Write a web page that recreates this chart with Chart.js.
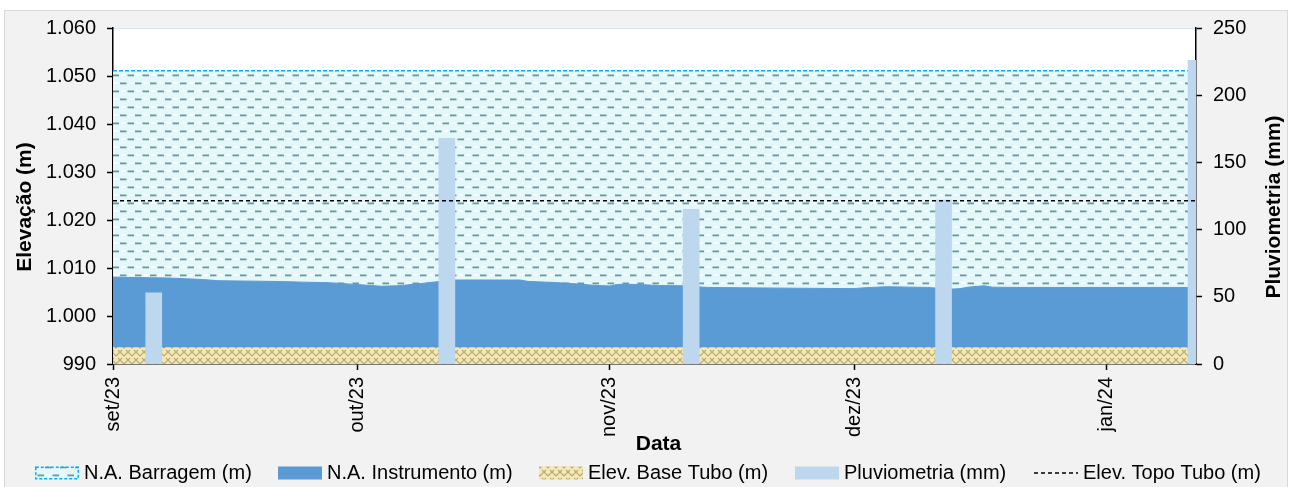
<!DOCTYPE html>
<html>
<head>
<meta charset="utf-8">
<script src="https://cdn.jsdelivr.net/npm/chart.js@4.4.0/dist/chart.umd.min.js"></script>
<style>
  html, body { margin: 0; padding: 0; background: #fff; overflow: hidden; }
  #frame { position: absolute; left: 4px; top: 10px; width: 1284px; height: 490px; background: #F2F2F2; border: 1px solid #D9D9D9; box-sizing: border-box; }
  #wrap { position: absolute; left: 0; top: 0; width: 1290px; height: 487px; }
</style>
</head>
<body>
<div id="frame"></div>
<div id="wrap"><canvas id="chart"></canvas></div>
<script>
/* ---- values ---- */
const monthTicks = ['2023-09-01', '2023-10-01', '2023-11-01', '2023-12-01', '2024-01-01'];
const monthLabels = ['set/23', 'out/23', 'nov/23', 'dez/23', 'jan/24'];
const rangeStart = '2023-09-01';
const rangeEnd = '2024-01-12';

const barragemDates = ['2023-09-01', '2024-01-12'];
const barragemValues = [1051.1, 1051.1];

const instDates = [
  '2023-09-01', '2023-09-08', '2023-09-12', '2023-09-14', '2023-09-21', '2023-09-28',
  '2023-10-04', '2023-10-06', '2023-10-08', '2023-10-10', '2023-10-13', '2023-10-21',
  '2023-10-22', '2023-10-25', '2023-10-27', '2023-10-30', '2023-11-01', '2023-11-02',
  '2023-11-04', '2023-11-07', '2023-11-10', '2023-11-13', '2023-11-23', '2023-12-01',
  '2023-12-02', '2023-12-05', '2023-12-10', '2023-12-13', '2023-12-14', '2023-12-15',
  '2023-12-17', '2023-12-18', '2023-12-21', '2024-01-12',
];
const instValues = [
  1008.1, 1007.9, 1007.6, 1007.35, 1007.2, 1006.9,
  1006.2, 1006.3, 1006.6, 1007.0, 1007.5, 1007.5,
  1007.2, 1007.0, 1006.8, 1006.4, 1006.25, 1006.6,
  1006.6, 1006.35, 1006.3, 1005.95, 1005.8, 1005.7,
  1005.85, 1006.1, 1005.95, 1005.6, 1005.7, 1006.0,
  1006.3, 1006.0, 1005.95, 1005.95,
];

const baseDates = ['2023-09-01', '2024-01-12'];
const baseValues = [993.5, 993.5];

const topoDates = ['2023-09-01', '2024-01-12'];
const topoValues = [1024.0, 1024.0];

const rainDates = ['2023-09-06', '2023-10-12', '2023-11-11', '2023-12-12', '2024-01-12'];
const rainValues = [53, 168, 115, 122, 226];

/* ---- helpers ---- */
const FONT = '"Liberation Sans", Arial, sans-serif';

function dayOf(s) {
  const [y, m, d] = s.split('-').map(Number);
  const [y0, m0, d0] = rangeStart.split('-').map(Number);
  return (Date.UTC(y, m - 1, d) - Date.UTC(y0, m0 - 1, d0)) / 86400000;
}

function points(dates, values) {
  return dates.map((d, i) => ({ x: dayOf(d), y: values[i] }));
}

function fmtThousands(v) {
  if (v >= 1000) return Math.floor(v / 1000) + '.' + String(v % 1000).padStart(3, '0');
  return String(v);
}

// light cyan fill with staggered short dashes
function makeDashPattern() {
  const c = document.createElement('canvas');
  c.width = 15; c.height = 16;
  const g = c.getContext('2d');
  g.fillStyle = '#E4F8FC';
  g.fillRect(0, 0, 15, 16);
  g.fillStyle = '#FAFDFF';
  g.fillRect(9, 2, 4, 2);
  g.fillRect(1.5, 10, 4, 2);
  g.fillStyle = '#6B989D';
  g.fillRect(0, 2.5, 6.5, 1.8);
  g.fillRect(7.5, 10.5, 6.5, 1.8);
  return g.createPattern(c, 'repeat');
}

// khaki weave
function makeWeavePattern() {
  const c = document.createElement('canvas');
  c.width = 8; c.height = 8;
  const g = c.getContext('2d');
  g.fillStyle = '#F3E8B6';
  g.fillRect(0, 0, 8, 8);
  g.strokeStyle = '#B9A86E';
  g.lineWidth = 1.2;
  g.beginPath();
  g.moveTo(0, 0); g.lineTo(4, 4); g.lineTo(8, 0);
  g.moveTo(0, 8); g.lineTo(2, 6);
  g.moveTo(6, 6); g.lineTo(8, 8);
  g.stroke();
  return g.createPattern(c, 'repeat');
}

const dashPattern = makeDashPattern();
const weavePattern = makeWeavePattern();

const tickDays = monthTicks.map(dayOf);

/* ---- plugins ---- */
const plotBackground = {
  id: 'plotBackground',
  beforeDraw(chart) {
    const { ctx, chartArea: a } = chart;
    ctx.save();
    ctx.fillStyle = '#FFFFFF';
    ctx.fillRect(a.left, a.top, a.right - a.left, a.bottom - a.top);
    ctx.strokeStyle = '#D5E8F4';
    ctx.lineWidth = 1;
    ctx.beginPath();
    ctx.moveTo(a.left, a.top + 0.5);
    ctx.lineTo(a.right, a.top + 0.5);
    ctx.stroke();
    ctx.restore();
  },
};

const axisTitles = {
  id: 'axisTitles',
  afterDraw(chart) {
    const { ctx, chartArea: a } = chart;
    const midY = (a.top + a.bottom) / 2 + 11;
    ctx.save();
    ctx.fillStyle = '#000';
    ctx.font = 'bold 21px ' + FONT;
    ctx.textAlign = 'center';
    ctx.textBaseline = 'middle';
    ctx.fillText('Data', (a.left + a.right) / 2 + 4, 444);
    [[25, 'Elevação (m)'], [1274, 'Pluviometria (mm)']].forEach(([x, t]) => {
      ctx.save();
      ctx.translate(x, midY);
      ctx.rotate(-Math.PI / 2);
      ctx.fillText(t, 0, 0);
      ctx.restore();
    });
    ctx.restore();
  },
};

// legend entries and where each one starts in the reference
const legendItems = [
  { label: 'N.A. Barragem (m)', kind: 'barragem', x: 35 },
  { label: 'N.A. Instrumento (m)', kind: 'inst', x: 278 },
  { label: 'Elev. Base Tubo (m)', kind: 'base', x: 539 },
  { label: 'Pluviometria (mm)', kind: 'rain', x: 795 },
  { label: 'Elev. Topo Tubo (m)', kind: 'topo', x: 1034 },
];

const bottomLegend = {
  id: 'bottomLegend',
  afterDraw(chart) {
    const { ctx } = chart;
    const iconW = 44, iconH = 13, gap = 5, cy = 473;
    ctx.save();
    ctx.font = '20px ' + FONT;
    ctx.textBaseline = 'middle';
    legendItems.forEach((it) => {
      const x = it.x;
      const top = cy - iconH / 2;
      if (it.kind === 'barragem') {
        ctx.fillStyle = dashPattern;
        ctx.fillRect(x, top, iconW, iconH);
        ctx.strokeStyle = '#00B0F0';
        ctx.lineWidth = 1.5;
        ctx.setLineDash([3, 2]);
        ctx.strokeRect(x + 0.75, top + 0.75, iconW - 1.5, iconH - 1.5);
        ctx.setLineDash([]);
      } else if (it.kind === 'inst') {
        ctx.fillStyle = '#5B9BD5';
        ctx.fillRect(x, top, iconW, iconH);
      } else if (it.kind === 'base') {
        ctx.fillStyle = weavePattern;
        ctx.fillRect(x, top, iconW, iconH);
      } else if (it.kind === 'rain') {
        ctx.fillStyle = '#BDD7EE';
        ctx.fillRect(x, top, iconW, iconH);
      } else {
        ctx.strokeStyle = '#000';
        ctx.lineWidth = 1.5;
        ctx.setLineDash([4, 3]);
        ctx.beginPath();
        ctx.moveTo(x, cy);
        ctx.lineTo(x + iconW, cy);
        ctx.stroke();
        ctx.setLineDash([]);
      }
      ctx.fillStyle = '#000';
      ctx.textAlign = 'left';
      ctx.fillText(it.label, x + iconW + gap, cy);
    });
    ctx.restore();
  },
};

/* ---- chart ---- */
Chart.defaults.font.family = FONT;
Chart.defaults.font.size = 20;
Chart.defaults.color = '#000';

const axisGrid = { offset: false, drawOnChartArea: false, drawTicks: true, tickLength: 6, tickColor: '#000', tickWidth: 1.5 };
const axisBorder = { display: true, color: '#000', width: 1.5 };

new Chart(document.getElementById('chart'), {
  type: 'line',
  data: {
    datasets: [
      {
        label: 'N.A. Barragem (m)',
        data: points(barragemDates, barragemValues),
        yAxisID: 'y',
        order: 5,
        fill: 'start',
        backgroundColor: dashPattern,
        borderColor: '#00B0F0',
        borderWidth: 1.5,
        borderDash: [4, 2],
        pointRadius: 0,
      },
      {
        label: 'N.A. Instrumento (m)',
        data: points(instDates, instValues),
        yAxisID: 'y',
        order: 4,
        fill: 'start',
        backgroundColor: '#5B9BD5',
        borderColor: '#5B9BD5',
        borderWidth: 1,
        pointRadius: 0,
      },
      {
        label: 'Elev. Base Tubo (m)',
        data: points(baseDates, baseValues),
        yAxisID: 'y',
        order: 3,
        fill: 'start',
        backgroundColor: weavePattern,
        borderWidth: 0,
        pointRadius: 0,
      },
      {
        type: 'bar',
        label: 'Pluviometria (mm)',
        data: points(rainDates, rainValues),
        yAxisID: 'y2',
        order: 2,
        backgroundColor: '#BDD7EE',
        borderWidth: 0,
        barThickness: 16,
        clip: 0,
      },
      {
        label: 'Elev. Topo Tubo (m)',
        data: points(topoDates, topoValues),
        yAxisID: 'y',
        order: 1,
        fill: false,
        borderColor: '#000',
        borderWidth: 1.5,
        borderDash: [4, 3],
        pointRadius: 0,
      },
    ],
  },
  options: {
    responsive: true,
    maintainAspectRatio: false,
    animation: false,
    events: [],
    layout: { padding: { top: 28, left: 0, right: 0, bottom: 0 } },
    plugins: {
      legend: { display: false },
      tooltip: { enabled: false },
    },
    scales: {
      x: {
        type: 'linear',
        min: 0,
        max: dayOf(rangeEnd),
        offset: false,
        afterBuildTicks: (scale) => { scale.ticks = tickDays.map(v => ({ value: v })); },
        afterFit: (scale) => { scale.height = 123; },
        ticks: {
          autoSkip: false,
          minRotation: 90,
          maxRotation: 90,
          padding: 7,
          callback: (v, i) => monthLabels[i],
        },
        grid: axisGrid,
        border: axisBorder,
      },
      y: {
        position: 'left',
        min: 990,
        max: 1060,
        afterFit: (scale) => { scale.width = 113; },
        ticks: { stepSize: 10, padding: 11, callback: (v) => fmtThousands(v) },
        grid: axisGrid,
        border: axisBorder,
      },
      y2: {
        position: 'right',
        min: 0,
        max: 250,
        afterFit: (scale) => { scale.width = 94; },
        ticks: { stepSize: 50, padding: 11 },
        grid: axisGrid,
        border: axisBorder,
      },
    },
  },
  plugins: [plotBackground, axisTitles, bottomLegend],
});
</script>
</body>
</html>
